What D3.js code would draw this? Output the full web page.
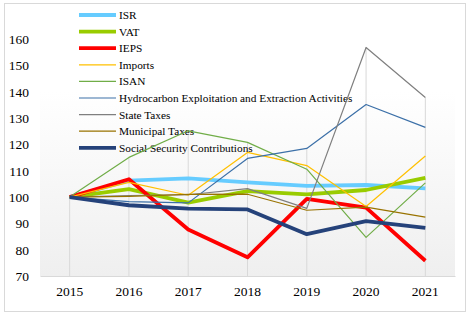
<!DOCTYPE html>
<html><head><meta charset="utf-8">
<script src="https://cdn.jsdelivr.net/npm/d3@7"></script>
<style>body{margin:0;background:#fff}svg{display:block}</style>
</head><body>
<script>
const years = ["2015","2016","2017","2018","2019","2020","2021"];
const yTicks = [70,80,90,100,110,120,130,140,150,160];
const ISR = [100,106.3,107.1,105.6,104.3,104.6,103.3];
const VAT = [100,103,97.9,102.3,101,102.7,107.3];
const IEPS = [100,106.8,87.7,77.1,99.3,96,75.8];
const Imports = [100,105.6,100.7,117,112,96.4,115.6];
const ISAN = [100,115.1,125.2,120.8,110.6,84.7,105.4];
const Hydro = [100,98.3,97.8,114.7,118.5,135.2,126.5];
const StateTaxes = [100,100.6,100.9,103.2,95.7,156.9,137.9];
const Municipal = [100,100.3,101,101.1,95,96.2,92.4];
const SSC = [100,96.9,95.6,95.3,85.9,90.9,88.3];

const series = [
  {name:"ISR", values:ISR, color:"#66ccff", w:3.8},
  {name:"VAT", values:VAT, color:"#99cc00", w:3.8},
  {name:"IEPS", values:IEPS, color:"#ff0000", w:3.8},
  {name:"Imports", values:Imports, color:"#ffc000", w:1.2},
  {name:"ISAN", values:ISAN, color:"#70ad47", w:1.2},
  {name:"Hydrocarbon Exploitation and Extraction Activities", values:Hydro, color:"#3c70a8", w:1.2},
  {name:"State Taxes", values:StateTaxes, color:"#7f7f7f", w:1.2},
  {name:"Municipal Taxes", values:Municipal, color:"#997300", w:1.2},
  {name:"Social Security Contributions", values:SSC, color:"#25427a", w:3.8}
];

const W = 470, H = 317;
const FONT = "Liberation Serif";
const svg = d3.select("body").append("svg").attr("width", W).attr("height", H);
svg.append("rect").attr("x",4.5).attr("y",3.5).attr("width",461).attr("height",308)
  .attr("fill","#fff").attr("stroke","#d9d9d9").attr("stroke-width",1);

const x = d3.scaleBand().domain(years).range([40,455]);
const y = d3.scaleLinear().domain([70,160]).range([276,39.3]);
const cx = d => x(d) + x.bandwidth()/2;

const defs = svg.append("defs");
const grad = defs.append("linearGradient").attr("id","bg").attr("x1",0).attr("y1",0).attr("x2",0).attr("y2",1);
grad.append("stop").attr("offset","0%").attr("stop-color","#ffffff");
grad.append("stop").attr("offset","30%").attr("stop-color","#ffffff");
grad.append("stop").attr("offset","100%").attr("stop-color","#efefef");
svg.append("rect").attr("x",40).attr("y",y(170)).attr("width",415).attr("height",276-y(170)).attr("fill","url(#bg)");

svg.append("g").selectAll("line").data(years).join("line")
  .attr("x1", d=>cx(d)).attr("x2", d=>cx(d))
  .attr("y1", (d,i)=>y(d3.max(series, s=>s.values[i])))
  .attr("y2", y(70))
  .attr("stroke","#d9d9d9").attr("stroke-width",1);

const xAxis = svg.append("g").attr("transform","translate(0,276)").call(d3.axisBottom(x).tickSize(0).tickPadding(10));
xAxis.attr("font-family", FONT).attr("font-size", 13.5);
xAxis.select(".domain").attr("stroke","#d9d9d9");
xAxis.selectAll("text").attr("fill","#000");

const yAxis = svg.append("g").attr("transform","translate(29,0)").call(d3.axisLeft(y).tickValues(yTicks).tickSize(0).tickPadding(0));
yAxis.attr("font-family", FONT).attr("font-size", 13.5);
yAxis.select(".domain").remove();
yAxis.selectAll("text").attr("fill","#000");

const lg = svg.append("g").attr("font-family", FONT).attr("font-size", 11.3);
series.forEach((s,i)=>{
  const ly = 15 + i*16.6;
  lg.append("line").attr("x1",79).attr("x2",116).attr("y1",ly).attr("y2",ly)
    .attr("stroke",s.color).attr("stroke-width",s.w);
  lg.append("text").attr("x",119).attr("y",ly+4).text(s.name).attr("fill","#000");
});

const line = d3.line().x((d,i)=>cx(years[i])).y(d=>y(d));
svg.append("g").selectAll("path").data(series).join("path")
  .attr("d", s=>line(s.values)).attr("fill","none")
  .attr("stroke", s=>s.color).attr("stroke-width", s=>s.w)
  .attr("stroke-linejoin","round");
</script>
</body></html>
